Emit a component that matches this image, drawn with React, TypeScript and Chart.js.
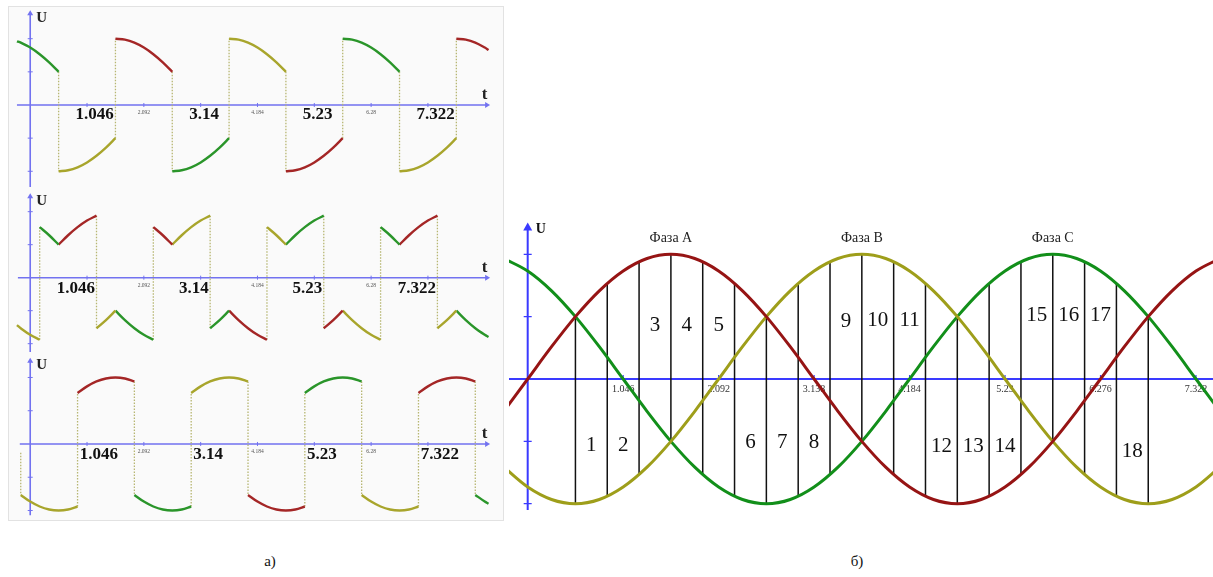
import React, { useEffect, useRef } from 'react';
import { Chart, registerables } from 'chart.js';

Chart.register(...registerables);

// ---------- Figure б: three-phase voltages (angle in degrees) ----------
const SINE_DEG = [-15, 0, 15, 30, 45, 60, 75, 90, 105, 120, 135, 150, 165, 180, 195, 210, 225, 240, 255, 270, 285, 300, 315, 330, 345, 360, 375, 390, 405, 420, 435];
const PHASE_A = [-0.259, 0, 0.259, 0.5, 0.707, 0.866, 0.966, 1, 0.966, 0.866, 0.707, 0.5, 0.259, 0, -0.259, -0.5, -0.707, -0.866, -0.966, -1, -0.966, -0.866, -0.707, -0.5, -0.259, 0, 0.259, 0.5, 0.707, 0.866, 0.966];
const PHASE_B = [-0.707, -0.866, -0.966, -1, -0.966, -0.866, -0.707, -0.5, -0.259, 0, 0.259, 0.5, 0.707, 0.866, 0.966, 1, 0.966, 0.866, 0.707, 0.5, 0.259, 0, -0.259, -0.5, -0.707, -0.866, -0.966, -1, -0.966, -0.866, -0.707];
const PHASE_C = [0.966, 0.866, 0.707, 0.5, 0.259, 0, -0.259, -0.5, -0.707, -0.866, -0.966, -1, -0.966, -0.866, -0.707, -0.5, -0.259, 0, 0.259, 0.5, 0.707, 0.866, 0.966, 1, 0.966, 0.866, 0.707, 0.5, 0.259, 0, -0.259];

// vertical cuts between the upper and lower envelope
const CUT_DEG = [30, 50, 70, 90, 110, 130, 150, 170, 190, 210, 230, 250, 270, 290, 310, 330, 350, 370, 390];
const CUT_TOP = [0.5, 0.766, 0.94, 1, 0.94, 0.766, 0.5, 0.766, 0.94, 1, 0.94, 0.766, 0.5, 0.766, 0.94, 1, 0.94, 0.766, 0.5];
const CUT_BOTTOM = [-1, -0.94, -0.766, -0.5, -0.766, -0.94, -1, -0.94, -0.766, -0.5, -0.766, -0.94, -1, -0.94, -0.766, -0.5, -0.766, -0.94, -1];

const REGION_NUM = ['1', '2', '3', '4', '5', '6', '7', '8', '9', '10', '11', '12', '13', '14', '15', '16', '17', '18'];
const REGION_DEG = [40, 60, 80, 100, 120, 140, 160, 180, 200, 220, 240, 260, 280, 300, 320, 340, 360, 380];
const REGION_U = [-0.53, -0.53, 0.43, 0.43, 0.43, -0.51, -0.51, -0.51, 0.46, 0.47, 0.47, -0.54, -0.54, -0.54, 0.51, 0.51, 0.51, -0.58];

const PHASE_NAMES = ['Фаза А', 'Фаза В', 'Фаза С'];
const PHASE_NAME_DEG = [90, 210, 330];
const PHASE_NAME_U = 1.13;

const B_TICK_DEG = [60, 120, 180, 240, 300, 360, 420];
const B_TICK_LABELS = ['1.046', '2.092', '3.138', '4.184', '5.23', '6.276', '7.322'];
const U_TICKS = [-1, -0.5, 0.5, 1];

// ---------- Figure а: switched output voltages ----------
const A_MAJOR_DEG = [60, 180, 300, 420];
const A_MAJOR_LABELS = ['1.046', '3.14', '5.23', '7.322'];
const A_MINOR_DEG = [120, 240, 360];
const A_MINOR_LABELS = ['2.092', '4.184', '6.28'];

// panel 1
const A1_PHASE = ['C', 'B', 'A', 'C', 'B', 'A', 'C', 'B', 'A'];
const A1_DEG = [
  [-14, -10, 0, 10, 20, 30],
  [30, 40, 50, 60, 70, 80, 90],
  [90, 100, 110, 120, 130, 140, 150],
  [150, 160, 170, 180, 190, 200, 210],
  [210, 220, 230, 240, 250, 260, 270],
  [270, 280, 290, 300, 310, 320, 330],
  [330, 340, 350, 360, 370, 380, 390],
  [390, 400, 410, 420, 430, 440, 450],
  [450, 460, 470, 480, 484],
];
const A1_VAL = [
  [0.961, 0.94, 0.866, 0.766, 0.643, 0.5],
  [-1, -0.985, -0.94, -0.866, -0.766, -0.643, -0.5],
  [1, 0.985, 0.94, 0.866, 0.766, 0.643, 0.5],
  [-1, -0.985, -0.94, -0.866, -0.766, -0.643, -0.5],
  [1, 0.985, 0.94, 0.866, 0.766, 0.643, 0.5],
  [-1, -0.985, -0.94, -0.866, -0.766, -0.643, -0.5],
  [1, 0.985, 0.94, 0.866, 0.766, 0.643, 0.5],
  [-1, -0.985, -0.94, -0.866, -0.766, -0.643, -0.5],
  [1, 0.985, 0.94, 0.866, 0.829],
];

// panel 2
const A2_PHASE = ['B', 'C', 'A', 'B', 'C', 'A', 'B', 'C', 'A', 'B', 'C', 'A', 'B', 'C', 'A', 'B', 'C'];
const A2_DEG = [
  [-14, -10, 0, 10],
  [10, 20, 30],
  [30, 40, 50, 60, 70],
  [70, 80, 90],
  [90, 100, 110, 120, 130],
  [130, 140, 150],
  [150, 160, 170, 180, 190],
  [190, 200, 210],
  [210, 220, 230, 240, 250],
  [250, 260, 270],
  [270, 280, 290, 300, 310],
  [310, 320, 330],
  [330, 340, 350, 360, 370],
  [370, 380, 390],
  [390, 400, 410, 420, 430],
  [430, 440, 450],
  [450, 460, 470, 480, 484],
];
const A2_VAL = [
  [-0.719, -0.766, -0.866, -0.94],
  [0.766, 0.643, 0.5],
  [0.5, 0.643, 0.766, 0.866, 0.94],
  [-0.766, -0.643, -0.5],
  [-0.5, -0.643, -0.766, -0.866, -0.94],
  [0.766, 0.643, 0.5],
  [0.5, 0.643, 0.766, 0.866, 0.94],
  [-0.766, -0.643, -0.5],
  [-0.5, -0.643, -0.766, -0.866, -0.94],
  [0.766, 0.643, 0.5],
  [0.5, 0.643, 0.766, 0.866, 0.94],
  [-0.766, -0.643, -0.5],
  [-0.5, -0.643, -0.766, -0.866, -0.94],
  [0.766, 0.643, 0.5],
  [0.5, 0.643, 0.766, 0.866, 0.94],
  [-0.766, -0.643, -0.5],
  [-0.5, -0.643, -0.766, -0.866, -0.899],
];

// panel 3
const A3_PHASE = ['B', 'A', 'C', 'B', 'A', 'C', 'B', 'A', 'C'];
const A3_DEG = [
  [-10, 0, 10, 20, 30, 40, 50],
  [50, 60, 70, 80, 90, 100, 110],
  [110, 120, 130, 140, 150, 160, 170],
  [170, 180, 190, 200, 210, 220, 230],
  [230, 240, 250, 260, 270, 280, 290],
  [290, 300, 310, 320, 330, 340, 350],
  [350, 360, 370, 380, 390, 400, 410],
  [410, 420, 430, 440, 450, 460, 470],
  [470, 480, 484],
];
const A3_VAL = [
  [-0.766, -0.866, -0.94, -0.985, -1, -0.985, -0.94],
  [0.766, 0.866, 0.94, 0.985, 1, 0.985, 0.94],
  [-0.766, -0.866, -0.94, -0.985, -1, -0.985, -0.94],
  [0.766, 0.866, 0.94, 0.985, 1, 0.985, 0.94],
  [-0.766, -0.866, -0.94, -0.985, -1, -0.985, -0.94],
  [0.766, 0.866, 0.94, 0.985, 1, 0.985, 0.94],
  [-0.766, -0.866, -0.94, -0.985, -1, -0.985, -0.94],
  [0.766, 0.866, 0.94, 0.985, 1, 0.985, 0.94],
  [-0.766, -0.866, -0.899],
];
const A3_LEAD_FROM = -0.13;

// ---------- styling ----------
const SERIF = '"Liberation Serif", "DejaVu Serif", serif';
const COLORS_B: Record<string, string> = { A: '#961414', B: '#9e9e1a', C: '#128f1a' };
const COLORS_A: Record<string, string> = { A: '#a42626', B: '#a8a52c', C: '#2a952a' };
const BLUE = '#3a3aff';
const BLUE_SOFT = '#7272f0';
const DOTS = '#b7b672';

const pts = (xs: number[], ys: (number | null)[]) => xs.map((x, i) => ({ x, y: ys[i] }));

// axes, ticks and labels of a left panel
const leftDeco = {
  id: 'leftDeco',
  beforeDatasetsDraw(chart: any, _args: any, o: any) {
    const { ctx } = chart;
    const xs = chart.scales.x;
    const ys = chart.scales.y;
    const x0 = xs.getPixelForValue(0);
    const y0 = ys.getPixelForValue(0);
    const xa = xs.getPixelForValue(o.xFrom);
    const xb = xs.getPixelForValue(o.xTo);
    const yTop = ys.getPixelForValue(o.yTop);
    const yBot = ys.getPixelForValue(o.yBottom);
    ctx.save();
    ctx.strokeStyle = BLUE_SOFT;
    ctx.fillStyle = BLUE_SOFT;
    ctx.lineWidth = 1.6;
    ctx.beginPath();
    ctx.moveTo(x0, yTop);
    ctx.lineTo(x0, yBot);
    ctx.moveTo(xa, y0);
    ctx.lineTo(xb, y0);
    ctx.stroke();
    ctx.beginPath();
    ctx.moveTo(x0, yTop - 2.5);
    ctx.lineTo(x0 - 3, yTop + 2.5);
    ctx.lineTo(x0 + 3, yTop + 2.5);
    ctx.closePath();
    ctx.fill();
    ctx.beginPath();
    ctx.moveTo(xb + 2.5, y0);
    ctx.lineTo(xb - 2.5, y0 - 3);
    ctx.lineTo(xb - 2.5, y0 + 3);
    ctx.closePath();
    ctx.fill();
    ctx.lineWidth = 1;
    ctx.beginPath();
    for (const v of U_TICKS) {
      const py = ys.getPixelForValue(v);
      ctx.moveTo(x0 - 2.5, py);
      ctx.lineTo(x0 + 2.5, py);
    }
    for (const d of [...A_MAJOR_DEG, ...A_MINOR_DEG]) {
      const px = xs.getPixelForValue(d);
      ctx.moveTo(px, y0 - 2);
      ctx.lineTo(px, y0 + 2);
    }
    ctx.stroke();

    ctx.fillStyle = '#111';
    ctx.textBaseline = 'middle';
    ctx.font = `bold 17px ${SERIF}`;
    ctx.textAlign = o.majorAlign;
    A_MAJOR_DEG.forEach((d, i) => {
      ctx.fillText(A_MAJOR_LABELS[i], xs.getPixelForValue(d) + o.majorDx, y0 + o.majorDy);
    });
    ctx.fillStyle = '#555';
    ctx.font = `5.5px ${SERIF}`;
    ctx.textAlign = 'center';
    A_MINOR_DEG.forEach((d, i) => {
      ctx.fillText(A_MINOR_LABELS[i], xs.getPixelForValue(d), y0 + 8);
    });
    ctx.fillStyle = '#222';
    ctx.font = `bold 15px ${SERIF}`;
    ctx.textAlign = 'left';
    ctx.fillText('U', x0 + 6, yTop + 5);
    ctx.font = `bold 17px ${SERIF}`;
    ctx.textAlign = 'center';
    ctx.fillText('t', xb - 3, y0 - 10);
    ctx.restore();
  },
};

// axes, ticks and labels of the sine panel
const rightDeco = {
  id: 'rightDeco',
  beforeDatasetsDraw(chart: any, _args: any, o: any) {
    const { ctx, chartArea } = chart;
    const xs = chart.scales.x;
    const ys = chart.scales.y;
    const x0 = xs.getPixelForValue(0);
    const y0 = ys.getPixelForValue(0);
    const yTop = ys.getPixelForValue(o.yTop);
    const yBot = ys.getPixelForValue(o.yBottom);
    ctx.save();
    ctx.strokeStyle = BLUE;
    ctx.fillStyle = BLUE;
    ctx.lineWidth = 2;
    ctx.beginPath();
    ctx.moveTo(chartArea.left, y0);
    ctx.lineTo(chartArea.right, y0);
    ctx.moveTo(x0, yTop + 6);
    ctx.lineTo(x0, yBot);
    ctx.stroke();
    ctx.beginPath();
    ctx.moveTo(x0, yTop);
    ctx.lineTo(x0 - 4.5, yTop + 8);
    ctx.lineTo(x0 + 4.5, yTop + 8);
    ctx.closePath();
    ctx.fill();
    ctx.lineWidth = 1.2;
    ctx.beginPath();
    for (const v of U_TICKS) {
      const py = ys.getPixelForValue(v);
      ctx.moveTo(x0 - 4, py);
      ctx.lineTo(x0 + 4, py);
    }
    for (const d of B_TICK_DEG) {
      const px = xs.getPixelForValue(d);
      ctx.moveTo(px, y0 - 4);
      ctx.lineTo(px, y0);
    }
    ctx.stroke();
    ctx.fillStyle = '#333';
    ctx.font = `10px ${SERIF}`;
    ctx.textAlign = 'center';
    ctx.textBaseline = 'middle';
    B_TICK_DEG.forEach((d, i) => ctx.fillText(B_TICK_LABELS[i], xs.getPixelForValue(d), y0 + 10));
    ctx.fillStyle = '#111';
    ctx.font = `bold 14px ${SERIF}`;
    ctx.textAlign = 'left';
    ctx.fillText('U', x0 + 8, yTop + 7);
    ctx.restore();
  },
  afterDatasetsDraw(chart: any) {
    const { ctx } = chart;
    const xs = chart.scales.x;
    const ys = chart.scales.y;
    ctx.save();
    ctx.fillStyle = '#111';
    ctx.textAlign = 'center';
    ctx.textBaseline = 'middle';
    ctx.font = `21px ${SERIF}`;
    REGION_NUM.forEach((n, i) => ctx.fillText(n, xs.getPixelForValue(REGION_DEG[i]), ys.getPixelForValue(REGION_U[i])));
    ctx.font = `14px ${SERIF}`;
    ctx.fillStyle = '#222';
    PHASE_NAMES.forEach((n, i) => ctx.fillText(n, xs.getPixelForValue(PHASE_NAME_DEG[i]), ys.getPixelForValue(PHASE_NAME_U)));
    ctx.restore();
  },
};

function segmentDatasets(degs: number[][], vals: number[][], phases: string[], lead?: number) {
  const sets: any[] = degs.map((d, i) => ({
    data: pts(d, vals[i]),
    borderColor: COLORS_A[phases[i]],
    borderWidth: 2.4,
    tension: 0.33,
    pointRadius: 0,
    order: 1,
  }));
  const jumps: any[] = [];
  if (lead !== undefined) {
    jumps.push({ x: degs[0][0], y: lead }, { x: degs[0][0], y: vals[0][0] }, { x: degs[0][0], y: null });
  }
  for (let i = 0; i < degs.length - 1; i++) {
    const xe = degs[i][degs[i].length - 1];
    const ye = vals[i][vals[i].length - 1];
    const ys = vals[i + 1][0];
    if (Math.abs(ye - ys) > 0.05) jumps.push({ x: xe, y: ye }, { x: xe, y: ys }, { x: xe, y: null });
  }
  sets.push({
    data: jumps,
    borderColor: DOTS,
    borderWidth: 1.3,
    borderDash: [1.5, 1.5],
    tension: 0,
    pointRadius: 0,
    order: 2,
  });
  return sets;
}

function baseOptions(xMin: number, xMax: number, yMin: number, yMax: number, deco: Record<string, any>) {
  return {
    animation: false,
    responsive: false,
    events: [],
    layout: { padding: 0 },
    scales: {
      x: { type: 'linear', min: xMin, max: xMax, display: false },
      y: { type: 'linear', min: yMin, max: yMax, display: false },
    },
    plugins: { legend: { display: false }, tooltip: { enabled: false }, ...deco },
  };
}

const LEFT_X_MIN = -22.4;
const LEFT_X_MAX = 496.1;

function buildA1() {
  return {
    type: 'line',
    data: { datasets: segmentDatasets(A1_DEG, A1_VAL, A1_PHASE) },
    options: baseOptions(LEFT_X_MIN, LEFT_X_MAX, -1.237, 1.478, {
      leftDeco: { xFrom: -14, xTo: 483, yTop: 1.39, yBottom: -1.237, majorAlign: 'left', majorDx: -11.5, majorDy: 10 },
    }),
    plugins: [leftDeco],
  };
}

function buildA2() {
  return {
    type: 'line',
    data: { datasets: segmentDatasets(A2_DEG, A2_VAL, A2_PHASE) },
    options: baseOptions(LEFT_X_MIN, LEFT_X_MAX, -1.126, 1.374, {
      leftDeco: { xFrom: -13, xTo: 483, yTop: 1.24, yBottom: -1.126, majorAlign: 'right', majorDx: 8, majorDy: 10.6 },
    }),
    plugins: [leftDeco],
  };
}

function buildA3() {
  return {
    type: 'line',
    data: { datasets: segmentDatasets(A3_DEG, A3_VAL, A3_PHASE, A3_LEAD_FROM) },
    options: baseOptions(LEFT_X_MIN, LEFT_X_MAX, -1.143, 1.383, {
      leftDeco: { xFrom: -11, xTo: 483, yTop: 1.26, yBottom: -1.07, majorAlign: 'left', majorDx: -7.3, majorDy: 11 },
    }),
    plugins: [leftDeco],
  };
}

function buildB() {
  const curve = (vals: number[], color: string) => ({
    data: pts(SINE_DEG, vals),
    borderColor: color,
    borderWidth: 3,
    tension: 0.33,
    pointRadius: 0,
    order: 1,
  });
  const cuts: any[] = [];
  CUT_DEG.forEach((d, i) => {
    cuts.push({ x: d, y: CUT_TOP[i] }, { x: d, y: CUT_BOTTOM[i] }, { x: d, y: null });
  });
  return {
    type: 'line',
    data: {
      datasets: [
        curve(PHASE_A, COLORS_B.A),
        curve(PHASE_B, COLORS_B.B),
        curve(PHASE_C, COLORS_B.C),
        { data: cuts, borderColor: '#111', borderWidth: 1.5, tension: 0, pointRadius: 0, order: 2 },
      ],
    },
    options: baseOptions(-11.75, 430.7, -1.0906, 1.3151, {
      rightDeco: { yTop: 1.255, yBottom: -1.05 },
    }),
    plugins: [rightDeco],
  };
}

function PlotCanvas({ left, top, width, height, build }: { left: number; top: number; width: number; height: number; build: () => any }) {
  const ref = useRef<HTMLCanvasElement>(null);
  useEffect(() => {
    const chart = new Chart(ref.current as HTMLCanvasElement, build());
    return () => chart.destroy();
  }, []);
  return (
    <canvas
      ref={ref}
      width={width}
      height={height}
      style={{ position: 'absolute', left, top, width, height }}
    />
  );
}

export default function App() {
  return (
    <div style={{ position: 'fixed', left: 0, top: 0, width: 1213, height: 577, background: '#fff', overflow: 'hidden', fontFamily: SERIF }}>
      <div style={{ position: 'absolute', left: 8, top: 6, width: 496, height: 515, background: '#fafafa', border: '1px solid #e2e2e2', boxSizing: 'border-box' }} />
      <PlotCanvas left={9} top={7} width={491} height={180} build={buildA1} />
      <PlotCanvas left={9} top={187} width={491} height={165} build={buildA2} />
      <PlotCanvas left={9} top={352} width={491} height={168} build={buildA3} />
      <PlotCanvas left={509} top={215} width={704} height={300} build={buildB} />
      <div style={{ position: 'absolute', left: 250, top: 553, width: 40, textAlign: 'center', fontSize: 15, color: '#111' }}>а)</div>
      <div style={{ position: 'absolute', left: 837, top: 553, width: 40, textAlign: 'center', fontSize: 15, color: '#111' }}>б)</div>
    </div>
  );
}
